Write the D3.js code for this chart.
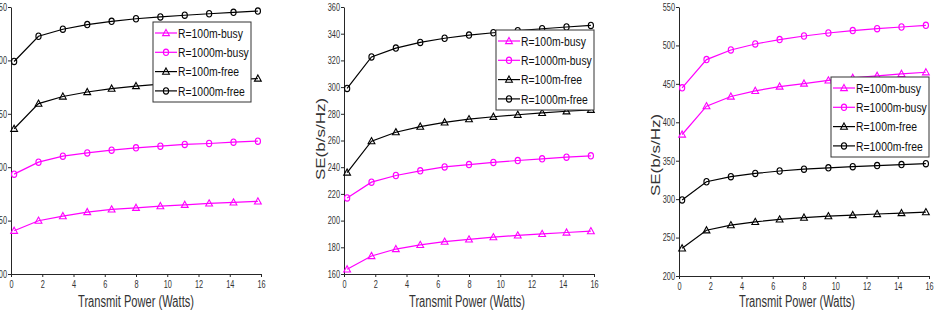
<!DOCTYPE html>
<html>
<head>
<meta charset="utf-8">
<script src="https://cdn.jsdelivr.net/npm/d3@7"></script>
<style>
  body { margin: 0; background: #fff; }
  svg { display: block; font-family: "Liberation Sans", Arial, sans-serif; }
</style>
</head>
<body>
<svg id="svg" width="940" height="314"></svg>
<script>
// transmit power (x values), same for every panel
const watts = [0.2, 1.76, 3.32, 4.88, 6.44, 8.0, 9.56, 11.12, 12.68, 14.24, 15.8]
const xTicks = [0, 2, 4, 6, 8, 10, 12, 14, 16]

const seriesNames = ['R=100m-busy', 'R=1000m-busy', 'R=100m-free', 'R=1000m-free']

// free channel curves are the same in all three panels
const free100 = [236, 259.5, 266.2, 270.4, 273.6, 276, 277.8, 279.3, 280.7, 281.9, 283]
const free1000 = [299, 322.6, 329.2, 333.5, 336.6, 339, 340.7, 342.3, 343.7, 345, 346.2]

// panel 1
const p1Busy100 = [140.5, 149.9, 154.2, 158, 160.5, 162, 163.6, 164.8, 166.1, 167, 168]
const p1Busy1000 = [193.5, 204.7, 210.3, 213.4, 215.9, 218.1, 219.7, 221.3, 222.2, 223.4, 224.4]
const p1YTicks = [100, 150, 200, 250, 300, 350]

// panel 2
const p2Busy100 = [163.5, 173.5, 178.7, 181.8, 184.2, 185.9, 187.6, 188.9, 190, 191.1, 192.1]
const p2Busy1000 = [217, 228.8, 233.8, 237.3, 240.2, 242, 243.6, 245, 246.3, 247.5, 248.5]
const p2YTicks = [160, 180, 200, 220, 240, 260, 280, 300, 320, 340, 360]

// panel 3
const p3Busy100 = [384.1, 421, 433.5, 440.9, 446.5, 450.4, 454.5, 457.8, 460.5, 463, 465.1]
const p3Busy1000 = [444.8, 481.6, 494.1, 501.9, 507.6, 512.3, 516.2, 519.3, 521.8, 524, 526.2]
const p3YTicks = [200, 250, 300, 350, 400, 450, 500, 550]

const magenta = '#ff00ff'
const black = '#000000'
const markerOf = ['tri', 'circ', 'tri', 'circ']
const colorOf = [magenta, magenta, black, black]
const squeeze = 0.7 // the figure text is narrow, like a horizontally squashed image

const svg = d3.select('#svg')

function drawMarker(g, type, color, x, y) {
  if (type === 'tri') {
    g.append('path')
      .attr('d', `M${x},${y - 3.6} L${x + 3.4},${y + 2.6} L${x - 3.4},${y + 2.6} Z`)
      .attr('fill', 'none').attr('stroke', color).attr('stroke-width', 1.1)
  } else {
    g.append('ellipse')
      .attr('cx', x).attr('cy', y).attr('rx', 2.6).attr('ry', 3.2)
      .attr('fill', 'none').attr('stroke', color).attr('stroke-width', 1.1)
  }
}

function drawPanel(p) {
  const x = d3.scaleLinear().domain([0, 16]).range([p.left, p.left + 250])
  const y = d3.scaleLinear().domain(p.yDomain).range([p.bottom, 7])
  const g = svg.append('g')

  const xAxis = g.append('g')
    .attr('transform', `translate(0,${p.bottom})`)
    .call(d3.axisBottom(x).tickValues(xTicks).tickSize(3).tickSizeOuter(0))
  const yAxis = g.append('g')
    .attr('transform', `translate(${p.left},0)`)
    .call(d3.axisLeft(y).tickValues(p.yTicks).tickSize(3).tickSizeOuter(0))
  for (const ax of [xAxis, yAxis]) {
    ax.select('.domain').attr('stroke', '#262626')
    ax.selectAll('.tick line').attr('stroke', '#262626')
    ax.selectAll('.tick text').attr('fill', '#333').attr('font-size', 10.5)
      .attr('font-family', '"Liberation Sans", Arial, sans-serif')
  }
  xAxis.selectAll('.tick text').attr('dy', '0.8em')
    .attr('transform', `scale(${squeeze},1)`)
    .attr('x', 0)
  // d3 puts the x position on the tick group, so squeeze only the glyphs
  yAxis.selectAll('.tick text')
    .attr('x', -4 / squeeze)
    .attr('transform', `scale(${squeeze},1)`)

  const line = d3.line().x((d, i) => x(watts[i])).y(d => y(d))
  p.series.forEach((s, k) => {
    g.append('path').datum(s).attr('d', line)
      .attr('fill', 'none').attr('stroke', colorOf[k]).attr('stroke-width', 1.2)
    s.forEach((v, i) => drawMarker(g, markerOf[k], colorOf[k], x(watts[i]), y(v)))
  })

  // axis titles
  g.append('text')
    .attr('x', p.xLabelX).attr('y', 307).attr('text-anchor', 'middle')
    .attr('font-size', 16).attr('fill', '#333')
    .attr('textLength', 116).attr('lengthAdjust', 'spacingAndGlyphs')
    .text('Transmit Power (Watts)')
  if (p.yLabelX !== null) {
    g.append('text')
      .attr('transform', `translate(${p.yLabelX},${p.yLabelY}) scale(${squeeze},1) rotate(-90)`)
      .attr('text-anchor', 'middle').attr('dy', '0.35em')
      .attr('font-size', 17).attr('fill', '#333')
      .text('SE(b/s/Hz)')
  }

  // legend
  const lg = g.append('g').attr('transform', `translate(${p.legend[0]},${p.legend[1]})`)
  lg.append('rect').attr('width', 98).attr('height', 80)
    .attr('fill', '#fff').attr('stroke', '#333').attr('stroke-width', 1)
  seriesNames.forEach((name, k) => {
    const ly = 11 + k * 19.3
    lg.append('line').attr('x1', 2).attr('x2', 24).attr('y1', ly).attr('y2', ly)
      .attr('stroke', colorOf[k]).attr('stroke-width', 1.2)
    drawMarker(lg, markerOf[k], colorOf[k], 13, ly)
    lg.append('text')
      .attr('transform', `translate(25,${ly}) scale(0.8,1)`)
      .attr('dy', '0.36em').attr('font-size', 13).attr('fill', '#111')
      .text(name)
  })
}

const panels = [
  { left: 11, bottom: 274, yDomain: [100, 350], yTicks: p1YTicks,
    series: [p1Busy100, p1Busy1000, free100, free1000],
    xLabelX: 136, yLabelX: null, yLabelY: 0, legend: [153, 22] },
  { left: 344, bottom: 274, yDomain: [160, 360], yTicks: p2YTicks,
    series: [p2Busy100, p2Busy1000, free100, free1000],
    xLabelX: 467, yLabelX: 321, yLabelY: 139, legend: [496, 30] },
  { left: 679, bottom: 276, yDomain: [200, 550], yTicks: p3YTicks,
    series: [p3Busy100, p3Busy1000, free100, free1000],
    xLabelX: 797, yLabelX: 656, yLabelY: 155, legend: [831, 77] }
]
panels.forEach(drawPanel)
</script>
</body>
</html>
